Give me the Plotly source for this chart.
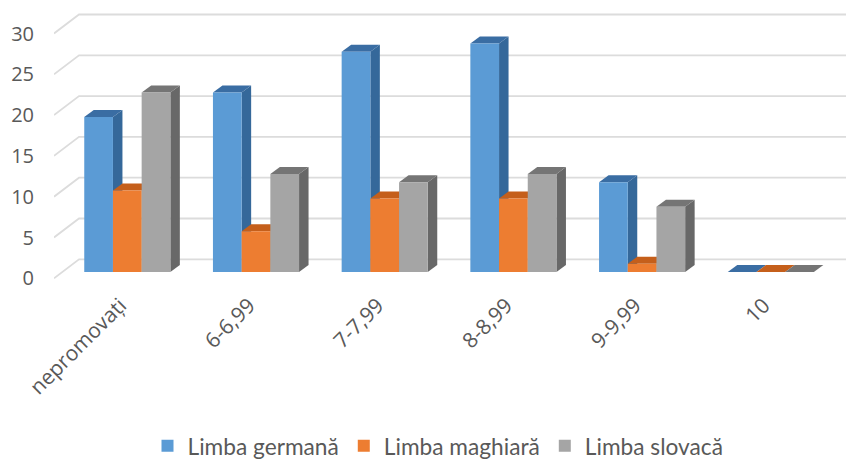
import plotly.graph_objects as go

categories = ["nepromovați", "6-6,99", "7-7,99", "8-8,99", "9-9,99", "10"]
germana = [19, 22, 27, 28, 11, 0]
maghiara = [10, 5, 9, 9, 1, 0]
slovaca = [22, 12, 11, 12, 8, 0]
y_ticks = [0, 5, 10, 15, 20, 25, 30]

series = [
    ("Limba germană", germana, "#5B9BD5", "#35689A", "#3A6DA3"),
    ("Limba maghiară", maghiara, "#ED7D31", "#B85A18", "#C55F1B"),
    ("Limba slovacă", slovaca, "#A5A5A5", "#686868", "#757575"),
]

# axis scales (pixels per unit)
PX_CAT = 128.7
PX_VAL = 8.16
W, H = 846, 459
M_LEFT = 54
AXIS_BOTTOM = 285
ZERO_PX = 278.3
CENTER0 = 127.3
x_range = [(M_LEFT - CENTER0) / PX_CAT, (W - CENTER0) / PX_CAT]
y_range = [(ZERO_PX - AXIS_BOTTOM) / PX_VAL, ZERO_PX / PX_VAL]

# oblique depth projection
WALL_DX, WALL_DY = 25 / PX_CAT, 19 / PX_VAL
BAR_BASE = 6.3 / PX_VAL
BAR_DX, BAR_DY = 9.5 / PX_CAT, 7 / PX_VAL
BAR_W = 28.7 / PX_CAT

fig = go.Figure()

# slanted floor-to-wall gridlines
gx, gy = [], []
for t in y_ticks:
    gx += [x_range[0], x_range[0] + WALL_DX, x_range[1], None]
    gy += [t, t + WALL_DY, t + WALL_DY, None]
fig.add_trace(go.Scatter(x=gx, y=gy, mode="lines", showlegend=False, hoverinfo="skip",
                         line=dict(color="#DCDCDC", width=1.8)))

# side and top faces, series by series, below the front faces
for s, (name, vals, front, side, top) in enumerate(series):
    for i, v in enumerate(vals):
        xl = i + (s - 1.5) * BAR_W
        xr = xl + BAR_W
        y1 = BAR_BASE + v
        if v > 0:
            fig.add_trace(go.Scatter(
                x=[xr, xr + BAR_DX, xr + BAR_DX, xr, xr],
                y=[BAR_BASE, BAR_BASE + BAR_DY, y1 + BAR_DY, y1, BAR_BASE],
                mode="lines", fill="toself", fillcolor=side, line=dict(width=0),
                showlegend=False, hoverinfo="skip"))
        fig.add_trace(go.Scatter(
            x=[xl, xl + BAR_DX, xr + BAR_DX, xr, xl],
            y=[y1, y1 + BAR_DY, y1 + BAR_DY, y1, y1],
            mode="lines", fill="toself", fillcolor=top, line=dict(width=0),
            showlegend=False, hoverinfo="skip"))

# front faces on an overlaid identical pair of axes so they paint above the faces
for name, vals, front, side, top in series:
    fig.add_trace(go.Bar(x=list(range(len(categories))), y=vals,
                         base=[BAR_BASE] * len(vals), name=name,
                         marker=dict(color=front, line=dict(width=0)),
                         xaxis="x2", yaxis="y2"))

fig.update_layout(
    width=W, height=H, autosize=False,
    paper_bgcolor="white", plot_bgcolor="white",
    margin=dict(l=M_LEFT, r=0, t=0, b=H - AXIS_BOTTOM, pad=0, autoexpand=False),
    barmode="group", bargap=1 - 3 * BAR_W, bargroupgap=0,
    font=dict(family="Open Sans, sans-serif", color="#595959"),
    xaxis=dict(range=x_range, tickmode="array", tickvals=list(range(len(categories))),
               ticktext=categories, tickangle=-45, showgrid=False, zeroline=False,
               showline=False, ticks="", ticklabelshift=-7, ticklabelstandoff=3,
               tickfont=dict(size=21, color="#595959")),
    yaxis=dict(range=y_range, tickmode="array", tickvals=y_ticks, showgrid=False,
               zeroline=False, showline=False, ticks="", ticklabelstandoff=19,
               tickfont=dict(size=20, color="#595959")),
    xaxis2=dict(overlaying="x", matches="x", visible=False),
    yaxis2=dict(overlaying="y", matches="y", visible=False),
    legend=dict(orientation="h", x=(438 - M_LEFT) / (W - M_LEFT), xanchor="center",
                y=(AXIS_BOTTOM - 446) / AXIS_BOTTOM, yanchor="middle",
                font=dict(family="Lato, sans-serif", size=22.7, color="#595959"), itemwidth=30,
                bgcolor="rgba(0,0,0,0)"),
)

fig.write_html("out.html", config={"displayModeBar": False},
               post_script="document.body.style.margin='0';document.body.style.overflow='hidden';")
